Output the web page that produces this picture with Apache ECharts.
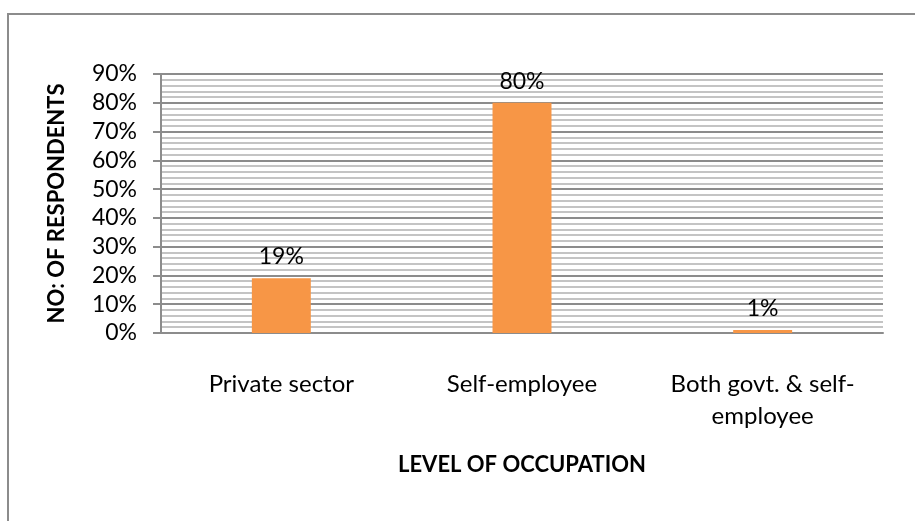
<!DOCTYPE html>
<html>
<head>
<meta charset="utf-8">
<script src="https://cdn.jsdelivr.net/npm/echarts@6/dist/echarts.min.js"></script>
<style>
  html, body { margin: 0; padding: 0; background: #ffffff; }
  #chart { width: 915px; height: 521px; }
</style>
</head>
<body>
<div id="chart"></div>
<script>
// data
var categories = ['Private sector', 'Self-employee', 'Both govt. & self-\nemployee']
var shares = [19, 80, 1]
var yTicks = [0, 10, 20, 30, 40, 50, 60, 70, 80, 90]

var font = 'Lato'
var myChart = echarts.init(document.getElementById('chart'))

myChart.setOption({
  animation: false,
  backgroundColor: '#ffffff',
  // outer frame of the chart area (only top and left edges show)
  graphic: [{
    type: 'rect',
    shape: { x: 8, y: 14, width: 2000, height: 2000 },
    style: { fill: 'none', stroke: '#8c8c8c', lineWidth: 2 },
    silent: true
  }],
  grid: {
    left: 161,
    right: 32,
    top: 74,
    bottom: 188
  },
  xAxis: {
    type: 'category',
    data: categories,
    name: 'LEVEL OF OCCUPATION',
    nameLocation: 'middle',
    nameGap: 121,
    nameTextStyle: { fontFamily: font, fontWeight: 'bold', fontSize: 22, color: '#000' },
    axisLine: { show: true, lineStyle: { color: '#8c8c8c', width: 2 } },
    axisTick: { show: false },
    axisLabel: {
      interval: 0,
      margin: 35,
      fontFamily: font,
      fontSize: 24,
      lineHeight: 32,
      color: '#000'
    }
  },
  yAxis: {
    type: 'value',
    min: yTicks[0],
    max: yTicks[yTicks.length - 1],
    interval: 10,
    name: 'NO: OF RESPONDENTS',
    nameLocation: 'middle',
    nameRotate: 90,
    nameGap: 93,
    nameTextStyle: { fontFamily: font, fontWeight: 'bold', fontSize: 22, color: '#000' },
    axisLine: { show: true, lineStyle: { color: '#8c8c8c', width: 2 } },
    axisTick: { show: true, length: 8, lineStyle: { color: '#8c8c8c', width: 2 } },
    axisLabel: {
      margin: 24,
      fontFamily: font,
      fontSize: 23,
      color: '#000',
      formatter: '{value}%'
    },
    splitLine: { show: true, lineStyle: { color: '#8c8c8c', width: 2 } },
    minorTick: { show: false, splitNumber: 5 },
    minorSplitLine: { show: true, lineStyle: { color: '#c4c4c4', width: 2 } }
  },
  series: [{
    type: 'bar',
    data: shares,
    barWidth: '24.5%',
    itemStyle: { color: '#F79646' },
    label: {
      show: true,
      position: 'top',
      distance: 10,
      fontFamily: font,
      fontSize: 23,
      color: '#000',
      formatter: '{c}%'
    }
  }]
})
</script>
</body>
</html>
